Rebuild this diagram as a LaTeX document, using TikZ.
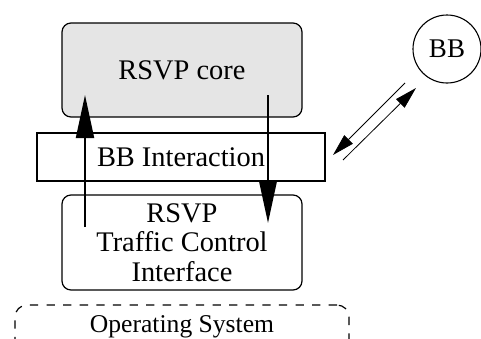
\documentclass[tikz,border=0pt]{standalone}
\usepackage{fontspec}
\setmainfont{Liberation Serif}
\usetikzlibrary{arrows.meta}
\begin{document}
\begin{tikzpicture}[x=1pt,y=-1pt,
  box/.style={draw,line width=1.2pt,rounded corners=9pt,minimum width=240pt,inner sep=0pt,
    font=\fontsize{28.4}{29.5}\selectfont,align=center},
  bigarrow/.style={line width=2pt,-{Triangle[length=43pt,width=18pt]}},
  smallarrow/.style={line width=0.8pt,-{Triangle[length=22pt,width=12pt]}}]
\useasboundingbox (0,0) rectangle (481,338);
\clip (0,0) rectangle (481,338);
\node[box,fill={rgb,255:red,229;green,229;blue,229},minimum height=94pt] (core) at (182,70) {RSVP core};
\node[box,rounded corners=0pt,minimum width=288pt,minimum height=48pt,fill=white] (bbi) at (181,157) {BB Interaction};
\node[box,minimum height=95pt] (tci) at (182,242.5) {RSVP\\Traffic Control\\Interface};
\node[draw,line width=1.2pt,dash pattern=on 8.3pt off 8.3pt,rounded corners=12pt,minimum width=334pt,minimum height=80pt] (os) at (182,345) {};
\node[anchor=base,font=\fontsize{25.6}{27}\selectfont,inner sep=0pt] (ostext) at (182,332) {Operating System};
\node[draw,circle,line width=1.1pt,minimum size=68pt,inner sep=0pt,font=\fontsize{27}{28}\selectfont] (bb) at (447,49) {BB};
% vertical arrows
\coordinate (upS) at (85,227);
\coordinate (upE) at (85,95);
\coordinate (dnS) at (268,95);
\coordinate (dnE) at (268,223);
\draw[bigarrow] (upS) -- (upE);
\draw[bigarrow] (dnS) -- (dnE);
% diagonal arrows
\coordinate (d1S) at (405,83);
\coordinate (d1E) at (333,155);
\coordinate (d2S) at (343,160);
\coordinate (d2E) at (416,88);
\draw[smallarrow] (d1S) -- (d1E);
\draw[smallarrow] (d2S) -- (d2E);
\end{tikzpicture}
\end{document}
